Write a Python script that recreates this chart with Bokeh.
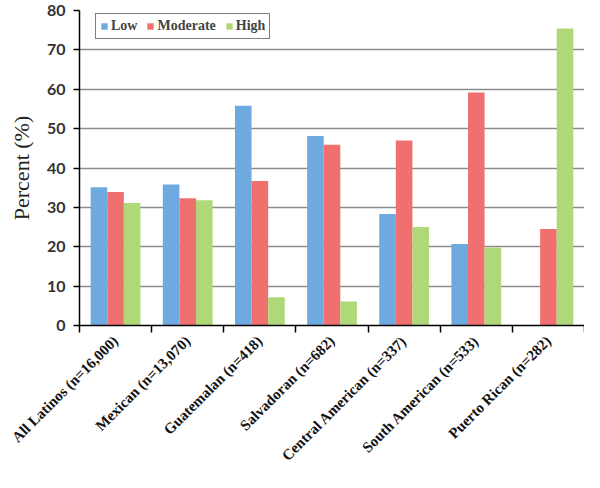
import math
from bokeh.plotting import figure
from bokeh.models import ColumnDataSource, FixedTicker, Legend, LegendItem
from bokeh.transform import dodge
from bokeh.embed import file_html
from bokeh.resources import INLINE

categories = ["All Latinos (n=16,000)", "Mexican (n=13,070)", "Guatemalan (n=418)",
              "Salvadoran (n=682)", "Central American (n=337)", "South American (n=533)",
              "Puerto Rican (n=282)"]
low = [35.1, 35.8, 55.8, 48.1, 28.3, 20.7, 0]
moderate = [33.9, 32.3, 36.7, 45.9, 47.0, 59.2, 24.5]
high = [31.1, 31.8, 7.2, 6.1, 25.0, 19.8, 75.4]
y_ticks = [0, 10, 20, 30, 40, 50, 60, 70, 80]

idx = list(range(len(categories)))
src = ColumnDataSource(dict(x=idx, low=low, moderate=moderate, high=high))

p = figure(width=584, height=472, output_backend="svg", toolbar_location=None,
           x_range=(-0.5, len(categories) - 0.5), y_range=(0, 80),
           min_border_left=79, min_border_right=0, min_border_top=10, min_border_bottom=130)
p.outline_line_color = None
p.background_fill_color = "white"

bw = 0.23
r1 = p.vbar(x=dodge("x", -bw, range=p.x_range), top="low", width=bw, source=src,
            fill_color="#6ea9e0", line_color=None)
r2 = p.vbar(x=dodge("x", 0, range=p.x_range), top="moderate", width=bw, source=src,
            fill_color="#f07070", line_color=None)
r3 = p.vbar(x=dodge("x", bw, range=p.x_range), top="high", width=bw, source=src,
            fill_color="#afd978", line_color=None)

# x axis
p.xaxis.ticker = FixedTicker(ticks=idx, minor_ticks=[i - 0.5 for i in range(len(categories) + 1)])
p.xaxis.major_label_overrides = {i: c for i, c in zip(idx, categories)}
p.xaxis.major_label_orientation = math.pi / 4
p.xaxis.major_tick_line_color = None
p.xaxis.major_tick_out = 0
p.xaxis.major_tick_in = 0
p.xaxis.minor_tick_out = 7
p.xaxis.minor_tick_in = 0
p.xaxis.minor_tick_line_color = "black"
p.xaxis.minor_tick_line_width = 1.5
p.xaxis.axis_line_color = "black"
p.xaxis.axis_line_width = 1.5
p.xaxis.major_label_text_font = "Liberation Serif"
p.xaxis.major_label_text_font_style = "bold"
p.xaxis.major_label_text_font_size = "15px"
p.xaxis.major_label_text_color = "#111111"
p.xaxis.major_label_standoff = 6
p.xgrid.grid_line_color = None

# y axis
p.yaxis.ticker = FixedTicker(ticks=y_ticks)
p.yaxis.minor_tick_line_color = None
p.yaxis.major_tick_out = 6
p.yaxis.major_tick_in = 0
p.yaxis.major_tick_line_color = "black"
p.yaxis.major_tick_line_width = 1.5
p.yaxis.axis_line_color = "black"
p.yaxis.axis_line_width = 1.5
p.yaxis.major_label_text_font = "Lato"
p.yaxis.major_label_text_font_style = "bold"
p.yaxis.major_label_text_font_size = "16px"
p.yaxis.major_label_text_color = "#333333"
p.yaxis.major_label_standoff = 8
p.yaxis.axis_label = "Percent (%)"
p.yaxis.axis_label_text_font = "Liberation Serif"
p.yaxis.axis_label_text_font_style = "normal"
p.yaxis.axis_label_text_font_size = "22px"
p.yaxis.axis_label_text_color = "#222222"
p.yaxis.axis_label_standoff = 10
p.ygrid.ticker = FixedTicker(ticks=y_ticks)
p.ygrid.grid_line_color = "#8c8c8c"
p.ygrid.grid_line_width = 1.5

legend = Legend(items=[LegendItem(label="Low", renderers=[r1]),
                       LegendItem(label="Moderate", renderers=[r2]),
                       LegendItem(label="High", renderers=[r3])],
                orientation="horizontal", location=(16, 286))
legend.border_line_color = "black"
legend.border_line_width = 1.5
legend.background_fill_alpha = 1
legend.glyph_width = 8
legend.glyph_height = 8
legend.label_text_font = "Liberation Serif"
legend.label_text_font_style = "bold"
legend.label_text_font_size = "14px"
legend.label_standoff = 3
legend.spacing = 9
legend.padding = 4
legend.margin = 0
legend.label_height = 14
p.add_layout(legend)

open("out.html", "w").write(file_html(p, INLINE))
